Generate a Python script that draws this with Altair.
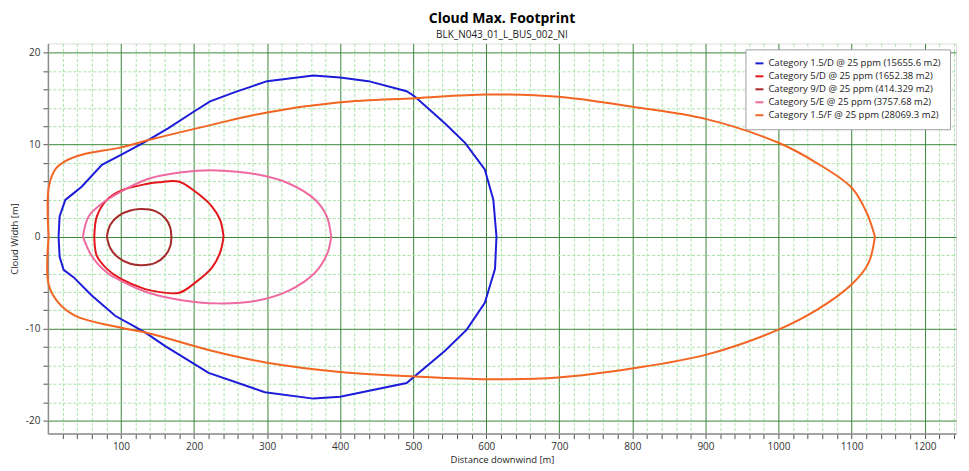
import altair as alt
import pandas as pd

# ---- data -------------------------------------------------------------------
SERIES = [
    "Category 1.5/D @ 25 ppm (15655.6 m2)",
    "Category 5/D @ 25 ppm (1652.38 m2)",
    "Category 9/D @ 25 ppm (414.329 m2)",
    "Category 5/E @ 25 ppm (3757.68 m2)",
    "Category 1.5/F @ 25 ppm (28069.3 m2)",
]
COLORS = ["#1c1cd9", "#e3161c", "#a52a2a", "#ee6aa0", "#f26522"]

# Category 1.5/D
D15_XU = [14.6, 16, 23.8, 35, 46.5, 73.9, 100, 133, 165, 200, 222, 256, 300, 363.5, 400, 438.7, 491, 502.6, 543.6, 571, 598, 609.7, 614]
D15_YU = [0, 2.2, 4.0, 4.7, 5.45, 7.8, 8.9, 10.3, 11.8, 13.6, 14.7, 15.7, 16.9, 17.5, 17.3, 16.9, 15.8, 15.2, 12.3, 10.2, 7.3, 4.0, 0]
D15_XL = [14.6, 16, 21.5, 35, 60, 92, 133, 160.6, 220, 297, 363.5, 400, 491, 543.6, 573.3, 598, 612, 614]
D15_YL = [0, -2.2, -3.6, -4.4, -6.4, -8.6, -10.4, -11.9, -14.8, -16.9, -17.6, -17.4, -15.9, -12.4, -10.1, -7.2, -3.5, 0]

# Category 5/D
D5_XU = [63.5, 67, 80.7, 100, 133, 151.4, 178.8, 201.6, 224.3, 235.8, 240.4]
D5_YU = [0, 2.2, 4.0, 5.0, 5.7, 5.9, 6.0, 4.9, 3.3, 1.8, 0]
D5_XL = [63.5, 67, 80.7, 100, 133, 151.4, 179.7, 201.6, 224.3, 235.8, 240.4]
D5_YL = [0, -2.1, -3.5, -4.6, -5.7, -6.0, -6.1, -5.0, -3.4, -1.7, 0]

# Category 9/D
D9_XU = [80.7, 85.4, 96.7, 112.7, 128.6, 147, 160.6, 167.4, 169]
D9_YU = [0, 1.3, 2.26, 2.84, 3.0, 2.77, 2.0, 1.0, 0]
D9_XL = [80.7, 85.4, 96.7, 112.7, 128.6, 147, 160.6, 167.4, 169]
D9_YL = [0, -1.25, -2.3, -2.95, -3.1, -2.85, -2.05, -1.05, 0]

# Category 5/E
E5_XU = [47.9, 55.7, 73.9, 100, 137.8, 183, 231, 283.7, 329, 365.8, 381.7, 387.7]
E5_YU = [0, 2.2, 3.6, 4.9, 6.3, 7.0, 7.2, 6.8, 5.8, 4.0, 2.2, 0]
E5_XL = [47.9, 60, 80.7, 100, 137.8, 183, 231, 283.7, 329, 365.8, 383, 387.7]
E5_YL = [0, -2.1, -3.9, -4.8, -6.1, -6.9, -7.25, -7.0, -5.9, -3.9, -1.7, 0]

# Category 1.5/F
F15_XU = [1, 1, 10, 23.8, 46.5, 100, 137.8, 224, 300, 400, 502.6, 601, 699, 801.6, 900, 1000, 1052.5, 1100.4, 1121, 1132]
F15_YU = [0, 5.3, 7.3, 8.2, 8.9, 9.7, 10.5, 12.15, 13.5, 14.6, 15.05, 15.45, 15.2, 14.1, 12.8, 10.2, 8.0, 5.3, 2.55, 0]
F15_XL = [1, 1, 14.6, 37.5, 100, 137.8, 224, 300, 400, 502.6, 601, 699, 801.6, 900, 1000, 1052.5, 1100, 1123, 1132]
F15_YL = [0, -5.2, -7.2, -8.6, -9.9, -10.5, -12.4, -13.7, -14.7, -15.2, -15.5, -15.3, -14.3, -12.85, -10.1, -7.96, -5.2, -2.9, 0]

X_TICKS = list(range(20, 1241, 20))
Y_TICKS = list(range(-20, 21, 2))

# ---- build the table --------------------------------------------------------
CURVES = [
    (SERIES[0], D15_XU, D15_YU, D15_XL, D15_YL),
    (SERIES[1], D5_XU, D5_YU, D5_XL, D5_YL),
    (SERIES[2], D9_XU, D9_YU, D9_XL, D9_YL),
    (SERIES[3], E5_XU, E5_YU, E5_XL, E5_YL),
    (SERIES[4], F15_XU, F15_YU, F15_XL, F15_YL),
]
rows = []
for name, xu, yu, xl, yl in CURVES:
    xs = list(xu) + list(xl[::-1])
    ys = list(yu) + list(yl[::-1])
    for i, (x, y) in enumerate(zip(xs, ys)):
        rows.append({"series": name, "x": x, "y": y, "i": i})
df = pd.DataFrame(rows)

FONT = "Open Sans"
MAJOR = "#3a873a"
MINOR = "#a8e2a8"

x_axis = alt.Axis(
    title="Distance downwind [m]",
    values=X_TICKS,
    labelExpr="datum.value % 100 === 0 ? toString(datum.value) : ''",
    gridColor={"condition": {"test": "datum.value % 100 === 0", "value": MAJOR}, "value": MINOR},
    gridDash={"condition": {"test": "datum.value % 100 !== 0", "value": [3, 2]}, "value": []},
    gridWidth=1,
    gridOpacity=1,
    tickColor="#555555",
    tickSize=5,
    domainColor="#8c8c8c",
    domainWidth=1.5,
    labelFontSize=10,
    labelColor="#333333",
    labelFont=FONT,
    labelPadding=3,
    titleFont=FONT,
    titleFontSize=9.5,
    titleFontWeight="normal",
    titleColor="#222222",
    titlePadding=3,
)
y_axis = alt.Axis(
    title="Cloud Width [m]",
    values=Y_TICKS,
    labelExpr="datum.value % 10 === 0 ? toString(datum.value) : ''",
    gridColor={"condition": {"test": "datum.value % 10 === 0", "value": MAJOR}, "value": MINOR},
    gridDash={"condition": {"test": "datum.value % 10 !== 0", "value": [3, 2]}, "value": []},
    gridWidth=1,
    gridOpacity=1,
    tickColor="#555555",
    tickSize=5,
    domainColor="#8c8c8c",
    domainWidth=1.5,
    labelFontSize=10,
    labelColor="#333333",
    labelFont=FONT,
    labelPadding=3,
    titleFont=FONT,
    titleFontSize=9.5,
    titleFontWeight="normal",
    titleColor="#222222",
    titlePadding=6,
)

enc = dict(
    x=alt.X("x:Q", scale=alt.Scale(domain=[0, 1243], nice=False, zero=False), axis=x_axis),
    y=alt.Y("y:Q", scale=alt.Scale(domain=[-21.4, 21.0], nice=False, zero=False), axis=y_axis),
    color=alt.Color(
        "series:N",
        scale=alt.Scale(domain=SERIES, range=COLORS),
        legend=alt.Legend(
            title=None,
            orient="top-right",
            offset=6,
            fillColor="white",
            strokeColor="#a0a0a0",
            padding=9,
            labelFontSize=9.5,
            labelFont=FONT,
            labelColor="#222222",
            symbolType="stroke",
            symbolStrokeWidth=2,
            symbolSize=64,
            rowPadding=3,
            labelLimit=300,
            labelOffset=4,
        ),
    ),
    order=alt.Order("i:Q"),
    detail="series:N",
)

base = alt.Chart(df).encode(**enc)
straight = base.mark_line(strokeWidth=2, interpolate="linear").transform_filter(
    alt.FieldOneOfPredicate(field="series", oneOf=[SERIES[0]])
)
smooth = base.mark_line(strokeWidth=2, interpolate="catmull-rom").transform_filter(
    alt.FieldOneOfPredicate(field="series", oneOf=SERIES[1:])
)

chart = (
    alt.layer(straight, smooth)
    .properties(
        width=910,
        height=391,
        title=alt.TitleParams(
            "Cloud Max. Footprint",
            subtitle="BLK_N043_01_L_BUS_002_NI",
            font=FONT,
            fontSize=14,
            fontWeight="bold",
            subtitleFont=FONT,
            subtitleFontSize=10,
            subtitleColor="#222222",
            color="#000000",
            anchor="middle",
            frame="group",
            offset=3,
            subtitlePadding=4,
        ),
    )
    .configure_view(stroke="#8c8c8c", strokeWidth=1.5)
    .configure(padding={"left": 1, "top": 4, "right": 5, "bottom": 2})
)

chart.save("out.html", embed_options={"renderer": "svg", "actions": False})
